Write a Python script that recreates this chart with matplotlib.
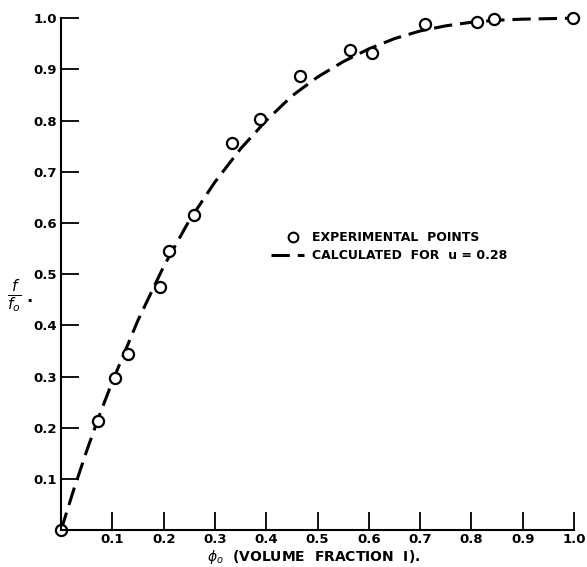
import matplotlib.pyplot as plt

# experimental points
exp_x = [0.0, 0.072, 0.105, 0.130, 0.192, 0.210, 0.260, 0.334, 0.388, 0.466,
         0.563, 0.606, 0.709, 0.810, 0.843, 0.998]
exp_y = [0.0, 0.213, 0.297, 0.344, 0.475, 0.545, 0.615, 0.756, 0.803, 0.887,
         0.9375, 0.932, 0.988, 0.992, 0.998, 1.0]

# calculated curve (u = 0.28)
calc_x = [0.0, 0.025, 0.05, 0.075, 0.1, 0.15, 0.2, 0.25, 0.3, 0.35, 0.4, 0.45,
          0.5, 0.55, 0.6, 0.65, 0.7, 0.75, 0.8, 0.85, 0.9, 0.95, 1.0]
calc_y = [0.0, 0.08, 0.155, 0.225, 0.29, 0.41, 0.515, 0.605, 0.68, 0.745, 0.80,
          0.848, 0.885, 0.915, 0.94, 0.96, 0.975, 0.985, 0.992, 0.996, 0.998,
          0.999, 1.0]

ticks = [0.1, 0.2, 0.3, 0.4, 0.5, 0.6, 0.7, 0.8, 0.9, 1.0]
tick_labels = ['0.1', '0.2', '0.3', '0.4', '0.5', '0.6', '0.7', '0.8', '0.9', '1.0']

fig = plt.figure(figsize=(5.87, 5.67), dpi=100)
ax = fig.add_axes([0.104, 0.065, 0.874, 0.903])

dash = (6, 2.6)
ax.plot(calc_x, calc_y, color='black', lw=2.2, dashes=dash, clip_on=False)
ax.plot(exp_x, exp_y, 'o', ms=8, mfc='white', mec='black', mew=1.6, clip_on=False)

ax.set_xlim(0, 1.0)
ax.set_ylim(0, 1.0)
ax.spines['top'].set_visible(False)
ax.spines['right'].set_visible(False)
for s in ['left', 'bottom']:
    ax.spines[s].set_linewidth(1.5)

ax.set_xticks(ticks)
ax.set_xticklabels(tick_labels)
ax.set_yticks(ticks)
ax.set_yticklabels(tick_labels)
ax.tick_params(direction='in', length=13, width=1.3, labelsize=9.5)
ax.tick_params(axis='x', pad=2)
ax.tick_params(axis='y', pad=3)
for lab in ax.get_xticklabels() + ax.get_yticklabels():
    lab.set_fontweight('bold')

# legend drawn by hand
ax.plot([0.452], [0.572], 'o', ms=7, mfc='white', mec='black', mew=1.5)
ax.text(0.49, 0.572, 'EXPERIMENTAL  POINTS', fontsize=9, fontweight='bold',
        va='center', ha='left')
ax.plot([0.41, 0.474], [0.537, 0.537], color='black', lw=2.2, dashes=dash)
ax.text(0.49, 0.537, 'CALCULATED  FOR  u = 0.28', fontsize=9, fontweight='bold',
        va='center', ha='left')

fig.text(0.025, 0.478, r'$\frac{f}{f_o}$', fontsize=16, fontweight='bold',
         ha='center', va='center')
fig.text(0.05, 0.476, '.', fontsize=12, fontweight='bold', ha='center', va='center')
fig.text(0.352, 0.017, r'$\phi_o$  (VOLUME  FRACTION  I).', fontsize=10,
         fontweight='bold', ha='left', va='center')

fig.savefig('out.png', dpi=100)
